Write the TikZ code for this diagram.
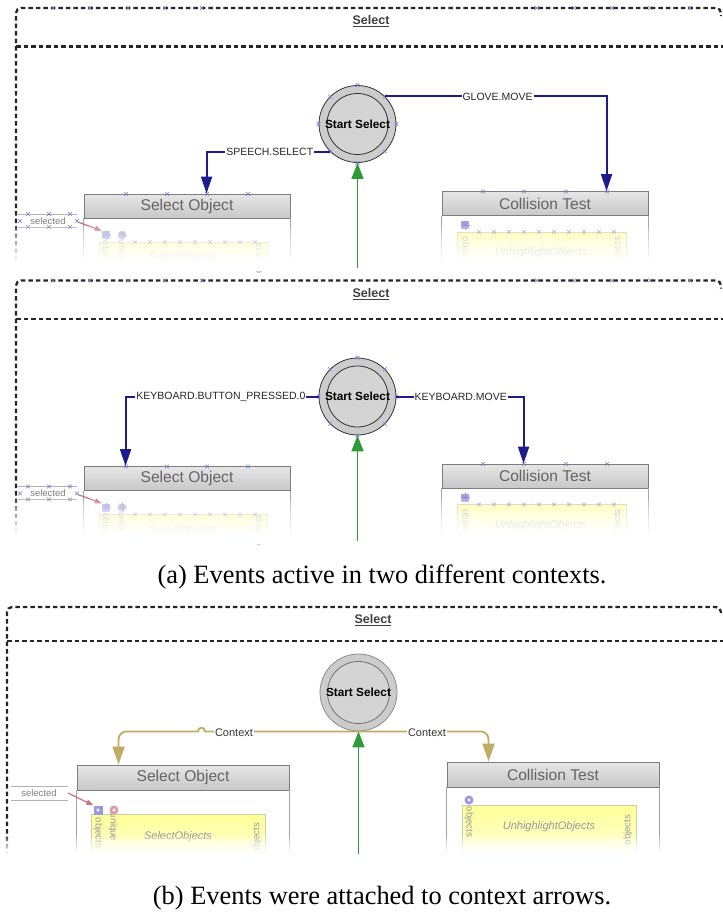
\documentclass[tikz,border=0pt]{standalone}
\usepackage{fontspec}
\setmainfont{Liberation Sans}
\newfontfamily\capfont{Liberation Serif}
\usetikzlibrary{arrows.meta,calc}
\definecolor{evtblue}{RGB}{28,28,140}
\definecolor{grncol}{RGB}{45,155,55}
\definecolor{ctxtan}{RGB}{192,172,98}
\definecolor{hdrtop}{RGB}{230,230,230}
\definecolor{hdrbot}{RGB}{200,200,200}
\definecolor{hdrline}{RGB}{125,125,125}
\definecolor{boxtxt}{RGB}{100,100,100}
\definecolor{yeltop}{RGB}{255,255,150}
\definecolor{yelbot}{RGB}{255,255,215}
\definecolor{yelline}{RGB}{205,205,170}
\definecolor{markblue}{RGB}{120,120,215}
\definecolor{selred}{RGB}{200,115,125}
\definecolor{circfill}{RGB}{204,204,204}
\definecolor{circin}{RGB}{212,212,212}
\definecolor{innertxt}{RGB}{150,150,160}
\tikzset{
 xm/.pic={\draw[markblue, line width=0.6pt] (-1.8pt,-1.8pt) -- (1.8pt,1.8pt) (-1.8pt,1.8pt) -- (1.8pt,-1.8pt);},
 burst/.pic={\foreach \a in {0,30,...,150} \draw[markblue!80, line width=0.5pt] (\a:4.5pt) -- (\a+180:4.5pt);},
 outerb/.style={line width=2.3pt, dash pattern=on 4.5pt off 3pt, black!85},
 ttl/.style={font=\bfseries\fontsize{12.5}{13}\selectfont, text=black!75, inner sep=0pt},
 startc/.style={circle, draw=black!80, line width=0.8pt, fill=circfill, minimum size=77pt, inner sep=0pt},
 innerc/.style={draw=black!80, line width=0.8pt, fill=circin},
 starttxt/.style={font=\bfseries\fontsize{11.8}{12}\selectfont, inner sep=0pt},
 hdr/.style={draw=hdrline, line width=0.9pt, top color=hdrtop, bottom color=hdrbot, minimum width=206pt, minimum height=24pt, inner sep=0pt, font=\fontsize{15.6}{16}\selectfont, text=boxtxt},
 bodyl/.style={draw=hdrline!70, line width=0.9pt},
 ybox/.style={draw=yelline, line width=0.8pt, top color=yeltop, bottom color=yelbot, inner sep=0pt},
 rtxt/.style={font=\fontsize{9.5}{10}\selectfont, text=innertxt, inner sep=0pt},
 itxt/.style={font=\itshape\fontsize{11}{12}\selectfont, text=innertxt, inner sep=0pt},
 portsq/.style={rectangle, fill=markblue!60, minimum size=8pt, inner sep=0pt},
 portci/.style={circle, fill=selred!60, minimum size=8pt, inner sep=0pt},
 sellbl/.style={font=\fontsize{9.5}{10}\selectfont, text=black!50, inner sep=1pt},
 selline/.style={draw=black!30, line width=0.7pt},
 selarrow/.style={draw=selred, line width=1.2pt, -{Triangle[length=7pt,width=5pt]}},
 evt/.style={draw=evtblue, line width=2pt, -{Triangle[length=17pt,width=11pt]}},
 evtlbl/.style={fill=white, inner sep=1pt, font=\fontsize{10.5}{11}\selectfont, text=black!85},
 grnarrow/.style={draw=grncol, line width=1.6pt, -{Triangle[length=16pt,width=12pt]}},
 ctxarrow/.style={draw=ctxtan, line width=1.8pt, -{Triangle[length=18pt,width=12pt]}},
 ctxlbl/.style={fill=white, inner sep=1pt, font=\fontsize{11}{12}\selectfont, text=black!80},
 capt/.style={font=\capfont\fontsize{26.4}{28}\selectfont, inner sep=0pt},
}
% white band fading downwards from #1 (clear) to #2 (opaque), solid to #3
\newcommand\fadeband[3]{%
 \foreach \i [evaluate=\i as \op using (\i/19)^0.6] in {0,...,19}{%
   \fill[white, opacity=\op] (-5,{#1+(#2-#1)*\i/20}) rectangle (728,{#1+(#2-#1)*(\i+1)/20+0.2});
 }
 \fill[white] (-5,#2) rectangle (728,#3);}
\newcommand\oldpanel[1]{%
 \draw[outerb, rounded corners=5pt] (16,268) |- (721,8) -- (721,16);
 \draw[outerb] (16,46.5) -- (723,46.5);
 \foreach \x in {53,90,128,165,202,537,574,612,650,690} \pic at (\x,8) {xm};
 \node[ttl] (t#1) at (371,21.5) {\underline{Select}};
 \node[startc] (s#1) at (357.5,124) {};
 \draw[innerc] (s#1.center) circle[radius=30.5pt];
 \node[starttxt] (st#1) at (s#1.center) {Start Select};
 \foreach \a in {0,45,...,315} \pic at (s#1.\a) {xm};
 % Select Object
 \node[hdr] (so#1) at (187,206) {Select Object};
 \draw[bodyl] (so#1.south west) -- ++(0,52) (so#1.south east) -- ++(0,52);
 \foreach \x in {126,167,207,248} \pic at (\x,194) {xm};
 \node[ybox, minimum width=168pt, minimum height=28pt] (ya#1) at (183,256) {};
 \foreach \x in {135,150,...,255} \pic at (\x,242) {xm};
 \node[rtxt, rotate=-90] (yao#1) at (105,256) {objects};
 \node[rtxt, rotate=-90] (yau#1) at (121,254) {unique};
 \node[itxt] (yat#1) at (183,258) {SelectObjects};
 \node[rtxt, rotate=90] (yar#1) at (259,258) {objects};
 \node[portsq] (pa#1) at (106,235) {};
 \pic at (106,235) {burst};
 \node[portci] (pb#1) at (122,235) {};
 \pic at (122,235) {burst};
 \draw[selline] (18,214) -- (77,214) (18,227) -- (77,227);
 \node[sellbl] (sl#1) at (48,221) {selected};
 \foreach \x in {28,49,70} {\pic at (\x,214) {xm}; \pic at (\x,227) {xm};}
 \pic at (20,221) {xm}; \pic at (77,221) {xm};
 \draw[selarrow] ($(sl#1.east)+(11,1)$) -- (pa#1.north west);
 % Collision Test
 \node[hdr] (co#1) at (545,203.5) {Collision Test};
 \draw[bodyl] (co#1.south west) -- ++(0,54) (co#1.south east) -- ++(0,54);
 \foreach \x in {483,524,566,607} \pic at (\x,191.5) {xm};
 \node[ybox, minimum width=169pt, minimum height=36pt] (yb#1) at (541.5,250) {};
 \foreach \x in {479,494,...,614} \pic at (\x,232) {xm};
 \node[rtxt, rotate=-90] (ybo#1) at (465,252) {objects};
 \node[itxt] (ybt#1) at (541,253) {UnhighlightObjects};
 \node[rtxt, rotate=90] (ybr#1) at (618,252) {objects};
 \node[portsq] (pc#1) at (465,225) {};
 \pic at (465,225) {burst};
 \fadeband{224}{264}{271}
 \coordinate (gb#1) at (357.5,268);
 \draw[grnarrow] (gb#1) -- (s#1.south);
}
\begin{document}
\begin{tikzpicture}[x=1pt,y=-1pt]
\useasboundingbox (0,0) rectangle (723,914);
\clip (0,0) rectangle (723,914);
\fill[white] (0,0) rectangle (723,914);
\begin{scope}
\oldpanel{1}
\end{scope}
\begin{scope}[shift={(0,272.5)}]
\oldpanel{2}
\end{scope}
% event arrows panel 1
\draw[evt] (s1.45) -| ($(co1.north west)+(165,0)$) node[evtlbl, pos=0.254] (l1) {GLOVE.MOVE};
\draw[evt] (s1.225) -| ($(so1.north west)+(123,0)$) node[evtlbl, pos=0.244] (l2) {SPEECH.SELECT};
% event arrows panel 2
\draw[evt] (s2.west) -| ($(so2.north west)+(42,0)$) node[evtlbl, pos=0.253] (l3) {KEYBOARD.BUTTON\_PRESSED.0};
\draw[evt] (s2.east) -| ($(co2.north west)+(82,0)$) node[evtlbl, pos=0.253] (l4) {KEYBOARD.MOVE};
\node[capt] (capa) at (382,577) {(a) Events active in two different contexts.};
% panel 3
\draw[outerb, rounded corners=5pt] (7,856) |- (721,607) -- (721,615);
\draw[outerb] (7,641) -- (723,641);
\node[ttl] (t3) at (373,620) {\underline{Select}};
\node[startc, draw=black!45] (s3) at (358.5,692.5) {};
\draw[innerc, draw=black!55] (s3.center) circle[radius=31pt];
\node[starttxt] (st3) at (s3.center) {Start Select};
\node[hdr, minimum width=212pt, minimum height=25pt] (so3) at (183,777.5) {Select Object};
\draw[bodyl] (so3.south west) -- ++(0,70) (so3.south east) -- ++(0,70);
\node[hdr, minimum width=212pt, minimum height=25pt] (co3) at (553,774.5) {Collision Test};
\draw[bodyl] (co3.south west) -- ++(0,72) (co3.south east) -- ++(0,72);
\node[ybox, minimum width=174pt, minimum height=44pt] (ya3) at (178,836) {};
\node[rtxt, rotate=-90] (yao3) at (98,833) {objects};
\node[rtxt, rotate=-90] (yau3) at (113,827) {unique};
\node[itxt] (yat3) at (178,837) {SelectObjects};
\node[rtxt, rotate=90] (yar3) at (257,838) {objects};
\node[portsq, fill=markblue!75, minimum size=9pt] (pa3) at (98,810) {};
\fill[white] (pa3.center) circle[radius=1.6pt];
\node[portci, fill=selred!70, minimum size=9pt] (pb3) at (114,810) {};
\fill[white] (pb3.center) circle[radius=1.6pt];
\node[ybox, minimum width=174pt, minimum height=50pt] (yb3) at (549,830) {};
\node[rtxt, rotate=-90] (ybo3) at (469,822) {objects};
\node[itxt] (ybt3) at (549,827) {UnhighlightObjects};
\node[rtxt, rotate=90] (ybr3) at (628,830) {objects};
\node[portci, fill=markblue!75, minimum size=9pt] (pc3) at (469,800) {};
\fill[white] (pc3.center) circle[radius=1.6pt];
\draw[selline] (11,786) -- (68,786) (11,800) -- (68,800);
\node[sellbl] (sl3) at (39,793) {selected};
\draw[selarrow] ($(sl3.east)+(10,0)$) -- (pa3.north west);
\draw[ctxarrow] (s3.south) -- (205,731.5) .. controls (205,726.5) and (198,726.5) .. (198,731.5) [rounded corners=8pt] -| ($(so3.north west)+(42,0)$);
\draw[ctxarrow, rounded corners=8pt] (s3.south) -| ($(co3.north west)+(42,0)$);
\node[ctxlbl] (c1) at (234,733) {Context};
\node[ctxlbl] (c2) at (427,733) {Context};
\fadeband{836}{856}{860}
\coordinate (gb3) at (358.5,854);
\draw[grnarrow] (gb3) -- (s3.south);
\node[capt] (capb) at (382,898) {(b) Events were attached to context arrows.};
\end{tikzpicture}
\end{document}
